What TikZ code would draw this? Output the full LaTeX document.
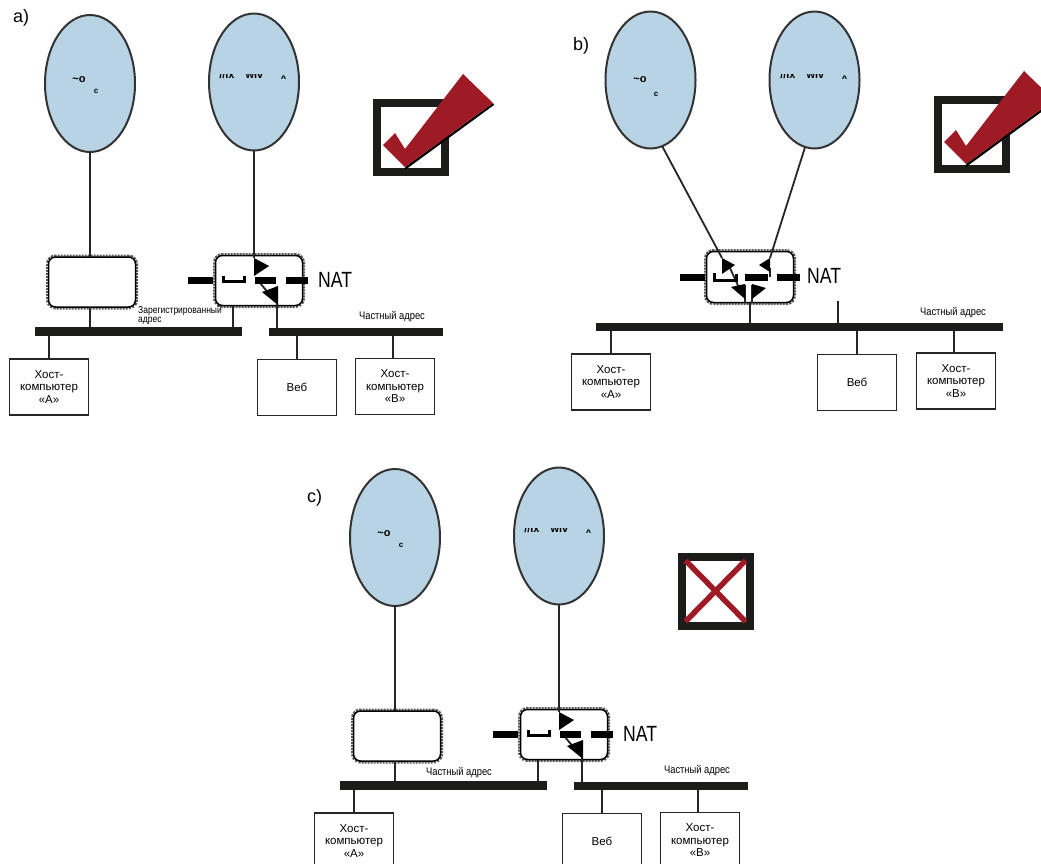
\documentclass[tikz,border=0pt]{standalone}
\usepackage{fontspec}
\setmainfont{Liberation Sans}
\newfontfamily\narrowfont[FakeStretch=0.85]{Liberation Sans}
\newfontfamily\natfont[FakeStretch=0.8]{Liberation Sans}
\usetikzlibrary{shapes.geometric}
\definecolor{netblue}{HTML}{B8D3E3}
\definecolor{tickred}{HTML}{9E1B26}
\definecolor{boxblack}{HTML}{1C1C1A}
\tikzset{
  net/.style={ellipse,draw=black!80,line width=2pt,fill=netblue,minimum width=90pt,minimum height=137pt,inner sep=0pt,outer sep=0pt},
  nettext/.style={font=\fontsize{11}{11}\selectfont,inner sep=0pt,anchor=base},
  router/.style={rectangle,rounded corners=7pt,draw=black,line width=1.5pt,fill=white,minimum width=87pt,inner sep=0pt,outer sep=0pt,
    preaction={draw=black!65,line width=5pt,dash pattern=on 2pt off 1pt}},
  bus/.style={rectangle,fill=boxblack,minimum height=8.5pt,inner sep=0pt,outer sep=0pt},
  host/.style={rectangle,draw=black!85,line width=1.5pt,fill=white,minimum width=79pt,minimum height=56pt,inner sep=0pt,outer sep=0pt,align=center,font=\fontsize{11.5}{12.5}\selectfont},
  wire/.style={draw=black!85,line width=1.8pt},
  bar/.style={draw=black,line width=7pt},
  addr/.style={font=\narrowfont\fontsize{11}{8}\selectfont,inner sep=0pt,align=left},
  regaddr/.style={font=\narrowfont\fontsize{10}{9.5}\selectfont,inner sep=0pt,align=left,anchor=west},
  nat/.style={font=\natfont\fontsize{22}{22}\selectfont,inner sep=0pt,anchor=west},
  panel/.style={font=\fontsize{18}{18}\selectfont,inner sep=0pt,anchor=west},
  tickbox/.style={rectangle,draw=boxblack,line width=8pt,fill=white,minimum width=68pt,minimum height=69pt,inner sep=0pt,outer sep=0pt},
}
\newcommand{\nettail}{\textbf{//ix}\hspace{11pt}\textbf{wiv}\hspace{17pt}\raisebox{-5.5pt}{\textbf{\textasciicircum}}}
\begin{document}
\begin{tikzpicture}[x=1pt,y=-1pt]
  \useasboundingbox (0,0) rectangle (1041,863);
  \clip (0,0) rectangle (1041,863);
  % panels a) and c) have the same layout
  \foreach \p/\dx/\dy in {a/0/0,c/305/454} {
    \begin{scope}[shift={(\dx,\dy)}]
      \node[net] (\p netA) at (90,83.5) {};
      \node[net] (\p netB) at (254,82) {};
      \node[nettext] (\p txtA) at (79,82) {\textbf{\textasciitilde o}};
      \node[nettext] (\p txtC) at (96,93) {\fontsize{8}{8}\selectfont\textbf{c}};
      \begin{scope}
        \clip (200,74.5) rectangle (300,78.5);
        \node[nettext] (\p txtB) at (253,78) {\nettail};
      \end{scope}
      % routers
      \node[router,minimum height=50pt] (\p gate) at (92,282) {};
      \node[router,minimum height=50pt] (\p natbox) at (259,280.5) {};
      \node[bus,minimum width=207pt] (\p busL) at (138.5,331.5) {};
      \node[bus,minimum width=174pt] (\p busR) at (355.5,332) {};
      % hosts
      \node[host] (\p hostA) at (49,387) {Хост-\\компьютер\\«А»};
      \node[host] (\p web) at (297,387.5) {Веб};
      \node[host] (\p hostB) at (395,386.5) {Хост-\\компьютер\\«В»};
      % wires
      \draw[wire] (\p netA.south) -- (\p netA.south |- \p gate.north);
      \draw[wire] (\p netA.south |- \p gate.south) -- (\p netA.south |- \p busL.north);
      \draw[wire] ([xshift=-26pt]\p natbox.south) -- ([xshift=-26pt]\p natbox.south |- \p busL.north);
      \draw[wire] (\p hostA.north) -- (\p hostA.north |- \p busL.south);
      \draw[wire] (\p web.north) -- (\p web.north |- \p busR.south);
      \draw[wire] ([xshift=-2pt]\p hostB.north) -- ([xshift=-2pt]\p hostB.north |- \p busR.south);
      % inside the NAT box
      \coordinate (\p natin) at (254,258);
      \coordinate (\p natout) at (277,287);
      \draw[wire] (\p netB.south) -- (\p natin);
      \draw[wire] (\p natout) -- (\p natout |- \p busR.north);
      \draw[wire] (260,283) -- (270,295);
      \draw[bar] (188,280.5) -- (213,280.5);
      \draw[bar] (255,280.5) -- (276,280.5);
      \draw[bar] (286,280.5) -- (308,280.5);
      \draw[line width=3pt] (223,276) -- (223,281.5) -- (244,281.5) -- (244,276);
      \fill[black] (\p natin) -- (269,266) -- (254,276) -- cycle;
      \fill[black] (262,292) -- (278,286) -- (278,305) -- cycle;
      \node[nat] (\p natlab) at (318,279.5) {NAT};
      \node[addr] (\p addr) at (392,317) {Частный адрес};
    \end{scope}
  }
  \node[panel] (alab) at (13,18) {a)};
  \node[panel] (clab) at (307,498) {c)};
  \node[regaddr] (regadr) at (138,315.5) {Зарегистрированный\\адрес};
  \node[addr] (caddr) at (459,773) {Частный адрес};
  % panel b)
  \node[panel] (blab) at (573,46) {b)};
  \node[net] (bnetA) at (650.5,80) {};
  \node[net] (bnetB) at (814.5,80) {};
  \node[nettext] (btxtA) at (640,82) {\textbf{\textasciitilde o}};
  \node[nettext] (btxtC) at (656,96) {\fontsize{8}{8}\selectfont\textbf{c}};
  \begin{scope}
    \clip (765,74.5) rectangle (865,78.5);
    \node[nettext] (btxtB) at (814,78) {\nettail};
  \end{scope}
  \node[router,minimum height=51pt] (bnatbox) at (750,277) {};
  \node[bus,minimum width=407pt] (bbus) at (799.5,327) {};
  \node[host] (bhostA) at (611,382) {Хост-\\компьютер\\«А»};
  \node[host] (bweb) at (857,382.5) {Веб};
  \node[host] (bhostB) at (956,381) {Хост-\\компьютер\\«В»};
  \coordinate (bnatinA) at (722,258);
  \coordinate (bnatinB) at (770,258);
  \coordinate (bstub) at (838,301);
  \draw[wire] (bnetA.-80) -- (bnatinA);
  \draw[wire] (bnetB.-98) -- (bnatinB);
  \draw[wire] (bnatbox.south) -- (bnatbox.south |- bbus.north);
  \draw[wire] (bstub) -- (bstub |- bbus.north);
  \draw[wire] (bhostA.north) -- (bhostA.north |- bbus.south);
  \draw[wire] (bweb.north) -- (bweb.north |- bbus.south);
  \draw[wire] ([xshift=-2pt]bhostB.north) -- ([xshift=-2pt]bhostB.north |- bbus.south);
  \draw[wire] (730,268) -- (740,290);
  \draw[wire] (745,285) -- (745,303);
  \draw[wire] (752,285) -- (752,303);
  \draw[wire] (770,268) -- (770,277);
  \draw[bar] (680,277.5) -- (705,277.5);
  \draw[bar] (745,277.5) -- (768,277.5);
  \draw[bar] (777,277.5) -- (800,277.5);
  \draw[line width=3pt] (714.5,273) -- (714.5,280.5) -- (736,280.5) -- (736,274);
  \fill[black] (bnatinA) -- (735,265) -- (722,274) -- cycle;
  \fill[black] (bnatinB) -- (759,265) -- (770,272) -- cycle;
  \fill[black] (731,287) -- (745,284) -- (745,299) -- cycle;
  \fill[black] (752,284) -- (766,288) -- (752,299) -- cycle;
  \node[nat] (bnatlab) at (807,276) {NAT};
  \node[addr] (baddr) at (953,313) {Частный адрес};
  % tick boxes
  \foreach \dx/\dy [count=\n] in {0/0,561/-3} {
    \begin{scope}[shift={(\dx,\dy)}]
      \node[tickbox] (tick\n) at (411,137.5) {};
      \fill[black] (405,167) -- (493,103) -- (494,105) -- (405,170) -- cycle;
      \fill[tickred] (383,145) -- (395,133) -- (405,149) -- (463,74) -- (493,103) -- (405,167) -- cycle;
    \end{scope}
  }
  % cross box
  \node[tickbox] (cross) at (715.5,591) {};
  \draw[tickred,line width=5.5pt] (cross.north west) ++(4,4) -- ++(60,61);
  \draw[tickred,line width=5.5pt] (cross.north east) ++(-4,4) -- ++(-60,61);
\end{tikzpicture}
\end{document}
